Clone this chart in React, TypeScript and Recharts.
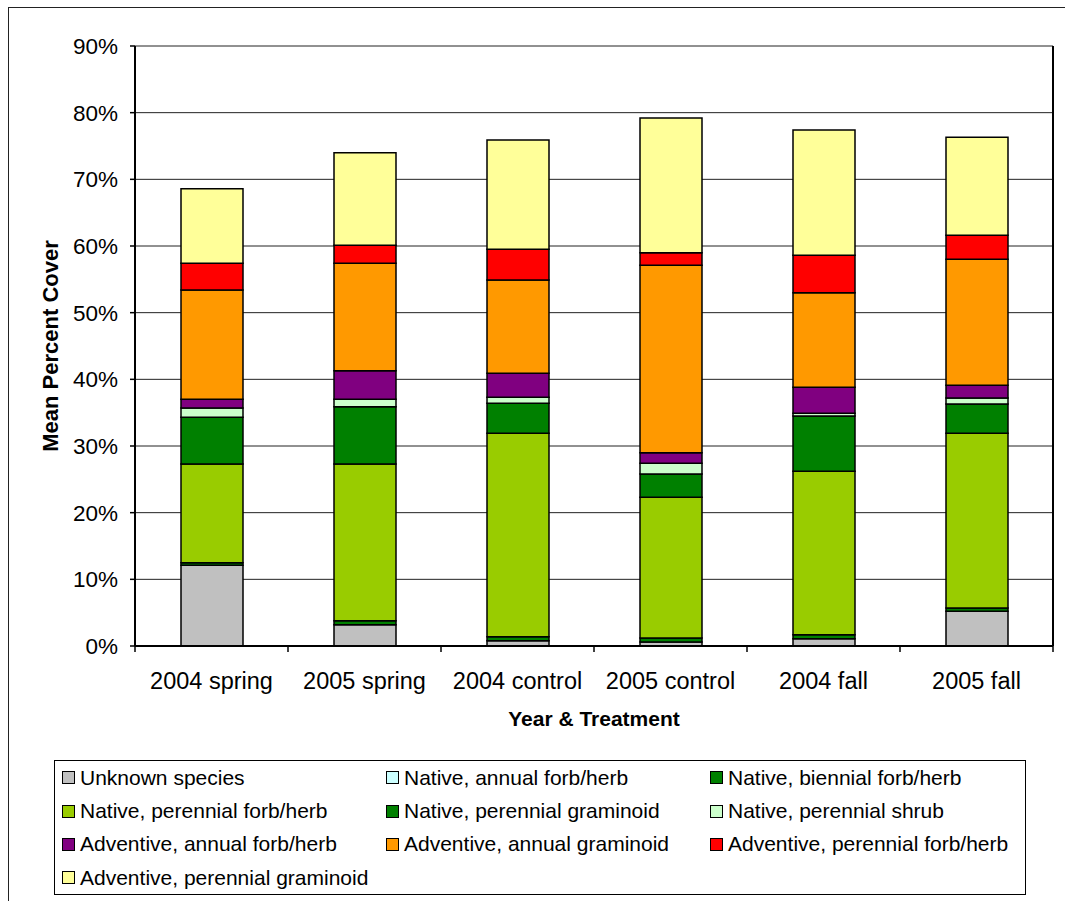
import React from 'react';
import { BarChart, Bar, XAxis, YAxis, CartesianGrid } from 'recharts';

const CATEGORIES = ['2004 spring', '2005 spring', '2004 control', '2005 control', '2004 fall', '2005 fall'];

// mean percent cover per functional group, one value per category
const UNKNOWN = [12.1, 3.2, 0.8, 0.6, 1.1, 5.2];
const NATIVE_ANNUAL_FORB = [0, 0, 0, 0, 0, 0];
const NATIVE_BIENNIAL_FORB = [0.4, 0.6, 0.6, 0.6, 0.6, 0.5];
const NATIVE_PERENNIAL_FORB = [14.8, 23.5, 30.5, 21.1, 24.5, 26.2];
const NATIVE_PERENNIAL_GRAMINOID = [7.0, 8.6, 4.5, 3.5, 8.3, 4.4];
const NATIVE_PERENNIAL_SHRUB = [1.4, 1.1, 0.9, 1.6, 0.4, 0.9];
const ADVENTIVE_ANNUAL_FORB = [1.3, 4.3, 3.6, 1.6, 3.9, 1.9];
const ADVENTIVE_ANNUAL_GRAMINOID = [16.4, 16.1, 14.0, 28.1, 14.2, 18.9];
const ADVENTIVE_PERENNIAL_FORB = [4.0, 2.7, 4.6, 1.9, 5.6, 3.6];
const ADVENTIVE_PERENNIAL_GRAMINOID = [11.2, 13.9, 16.4, 20.2, 18.8, 14.7];

const Y_TICKS = [0, 10, 20, 30, 40, 50, 60, 70, 80, 90];

const SERIES = [
  { key: 'unknown', name: 'Unknown species', color: '#C0C0C0', values: UNKNOWN },
  { key: 'natAnnForb', name: 'Native, annual forb/herb', color: '#CCFFFF', values: NATIVE_ANNUAL_FORB },
  { key: 'natBienForb', name: 'Native, biennial forb/herb', color: '#008000', values: NATIVE_BIENNIAL_FORB },
  { key: 'natPerForb', name: 'Native, perennial forb/herb', color: '#99CC00', values: NATIVE_PERENNIAL_FORB },
  { key: 'natPerGram', name: 'Native, perennial graminoid', color: '#008000', values: NATIVE_PERENNIAL_GRAMINOID },
  { key: 'natPerShrub', name: 'Native, perennial shrub', color: '#CCFFCC', values: NATIVE_PERENNIAL_SHRUB },
  { key: 'advAnnForb', name: 'Adventive, annual forb/herb', color: '#800080', values: ADVENTIVE_ANNUAL_FORB },
  { key: 'advAnnGram', name: 'Adventive, annual graminoid', color: '#FF9900', values: ADVENTIVE_ANNUAL_GRAMINOID },
  { key: 'advPerForb', name: 'Adventive, perennial forb/herb', color: '#FF0000', values: ADVENTIVE_PERENNIAL_FORB },
  { key: 'advPerGram', name: 'Adventive, perennial graminoid', color: '#FFFF99', values: ADVENTIVE_PERENNIAL_GRAMINOID },
];

const data = CATEGORIES.map((category, i) => {
  const row: Record<string, string | number> = { category };
  SERIES.forEach((s) => {
    row[s.key] = s.values[i];
  });
  return row;
});

const FONT = '"Liberation Sans", Arial, sans-serif';
const WIDTH = 1065;
const MARGIN = { top: 46, right: 11, bottom: 0, left: 0 };
const Y_AXIS_W = 135;
const BAND = (WIDTH - MARGIN.left - MARGIN.right - Y_AXIS_W - 1) / CATEGORIES.length;

// category label plus an Excel-style tick mark on the left edge of each band
const CategoryTick = (props: any) => {
  const { x, y, payload, index } = props;
  const left = x - BAND / 2;
  return (
    <g>
      <line x1={left} y1={y} x2={left} y2={y + 6} stroke="#000" strokeWidth={1.5} />
      {index === CATEGORIES.length - 1 && (
        <line x1={left + BAND} y1={y} x2={left + BAND} y2={y + 6} stroke="#000" strokeWidth={1.5} />
      )}
      <text x={x} y={y + 43} textAnchor="middle" fontSize={23.5} fontFamily={FONT} fill="#000">
        {payload.value}
      </text>
    </g>
  );
};

const Legend = () => (
  <div
    style={{
      position: 'absolute',
      left: 54,
      top: 760,
      width: 972,
      height: 135,
      border: '1px solid #000',
      background: '#fff',
      fontFamily: FONT,
      fontSize: 21,
      color: '#000',
      display: 'grid',
      gridTemplateColumns: '324px 324px 1fr',
      gridAutoRows: 33.4,
      alignItems: 'center',
      paddingLeft: 7,
      boxSizing: 'border-box',
    }}
  >
    {SERIES.map((s) => (
      <div key={s.key} style={{ display: 'flex', alignItems: 'center', whiteSpace: 'nowrap' }}>
        <span
          style={{
            display: 'inline-block',
            width: 11,
            height: 11,
            background: s.color,
            border: '1.5px solid #000',
            marginRight: 5,
          }}
        />
        <span>{s.name}</span>
      </div>
    ))}
  </div>
);

const App: React.FC = () => {
  return (
    <div style={{ position: 'absolute', left: 0, top: 0, width: WIDTH, height: 901, background: '#fff' }}>
      <div
        style={{
          position: 'absolute',
          left: 8,
          top: 7,
          width: WIDTH - 9,
          height: 894,
          borderLeft: '1.5px solid #222',
          borderTop: '1.5px solid #222',
        }}
      />
      <div style={{ position: 'absolute', left: 0, top: 0 }}>
        <BarChart width={WIDTH} height={700} data={data} margin={MARGIN} barSize={62}>
          <CartesianGrid vertical={false} stroke="#222" strokeWidth={1} />
          <XAxis
            dataKey="category"
            height={54}
            interval={0}
            tickLine={false}
            tickSize={0}
            tickMargin={0}
            axisLine={{ stroke: '#000', strokeWidth: 2 }}
            tick={<CategoryTick />}
          />
          <YAxis
            domain={[0, 90]}
            ticks={Y_TICKS}
            width={Y_AXIS_W}
            tickSize={5}
            tickMargin={12}
            tickFormatter={(v: number) => `${v}%`}
            axisLine={{ stroke: '#000', strokeWidth: 2 }}
            tickLine={{ stroke: '#000', strokeWidth: 1.5 }}
            tick={{ fill: '#000', fontSize: 22.5, fontFamily: FONT }}
          />
          <YAxis
            yAxisId="frame"
            orientation="right"
            domain={[0, 90]}
            width={1}
            tick={false}
            tickLine={false}
            axisLine={{ stroke: '#000', strokeWidth: 2 }}
          />
          {SERIES.map((s) => (
            <Bar
              key={s.key}
              dataKey={s.key}
              name={s.name}
              stackId="cover"
              fill={s.color}
              stroke="#000"
              strokeWidth={1.5}
              isAnimationActive={false}
            />
          ))}
        </BarChart>
      </div>
      <svg width={WIDTH} height={901} style={{ position: 'absolute', left: 0, top: 0, pointerEvents: 'none' }}>
        <text
          x={50}
          y={346}
          transform="rotate(-90 50 346)"
          textAnchor="middle"
          dominantBaseline="central"
          fontSize={22}
          fontWeight="bold"
          fontFamily={FONT}
        >
          Mean Percent Cover
        </text>
        <text x={594} y={726} textAnchor="middle" fontSize={21} fontWeight="bold" fontFamily={FONT}>
          Year &amp; Treatment
        </text>
      </svg>
      <Legend />
    </div>
  );
};

export default App;
